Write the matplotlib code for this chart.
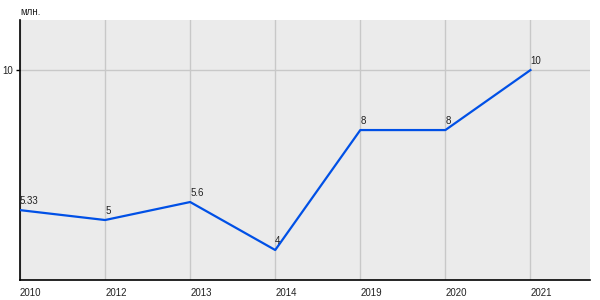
import matplotlib
matplotlib.use('Agg')
import matplotlib.pyplot as plt

years = ['2010', '2012', '2013', '2014', '2019', '2020', '2021']
values = [5.33, 5, 5.6, 4, 8, 8, 10]
value_labels = ['5.33', '5', '5.6', '4', '8', '8', '10']

plt.rcParams['font.family'] = ['Liberation Sans', 'DejaVu Sans']

fig = plt.figure(figsize=(6, 3), dpi=100)
ax = fig.add_axes([20 / 600, 20 / 300, 570 / 600, 260 / 300])
ax.set_facecolor('#ebebeb')

x = list(range(len(years)))
ax.plot(x, values, color='#0050e6', lw=1.6, zorder=3)

# value labels just above each point, left aligned
for xi, v, lab in zip(x, values, value_labels):
    ax.annotate(lab, (xi, v), xytext=(0, 3), textcoords='offset points',
                ha='left', va='bottom', fontsize=7, color='#222222')

ax.set_xlim(0, 6.7)
ax.set_ylim(3, 11.67)
ax.set_xticks(x)
ax.set_xticklabels(years, ha='left', fontsize=7, color='#222222')
ax.set_yticks([10])
ax.set_yticklabels(['10'], fontsize=7, color='#222222')
ax.tick_params(axis='x', length=0, pad=6)
ax.tick_params(axis='y', length=3, pad=2, width=1)

ax.grid(True, color='#c8c8c8', lw=1)
ax.set_axisbelow(True)
for side in ['top', 'right']:
    ax.spines[side].set_visible(False)
ax.spines['left'].set_linewidth(1.2)
ax.spines['bottom'].set_linewidth(1.2)

fig.text(20 / 600, 1 - 12 / 300, 'млн.', fontsize=7, color='#222222',
         ha='left', va='center')

plt.savefig('out.png', dpi=100)
